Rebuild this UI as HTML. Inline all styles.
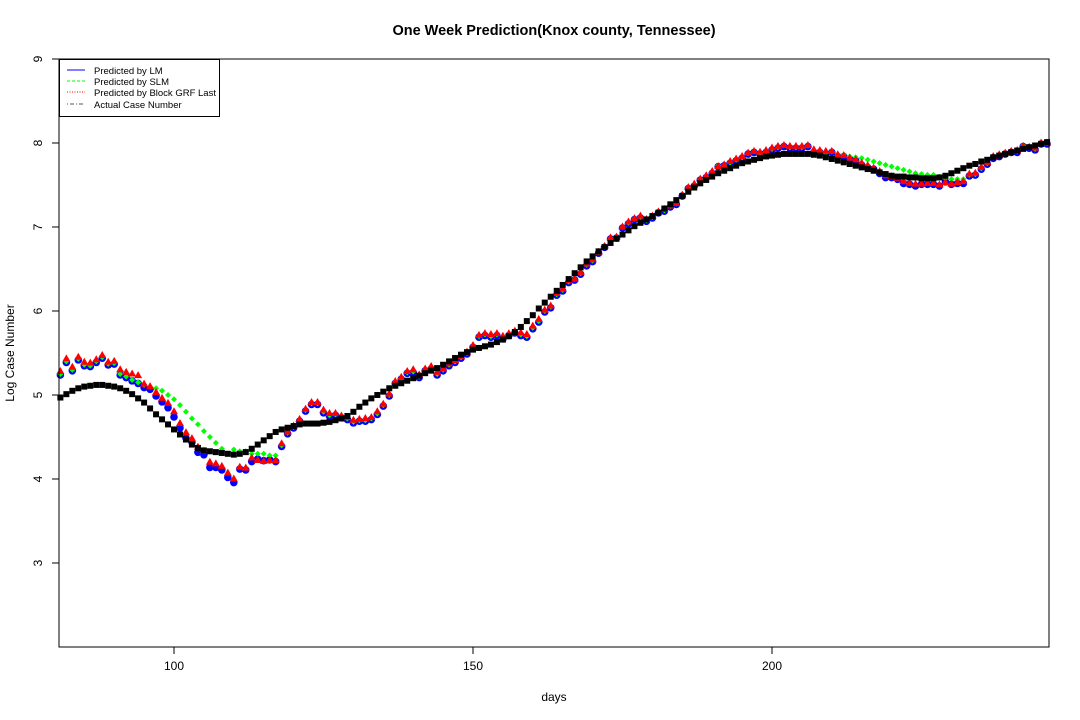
<!DOCTYPE html>
<html><head><meta charset="utf-8"><style>
html,body{margin:0;padding:0;background:#fff;}
svg{display:block;font-family:"Liberation Sans",sans-serif;}
</style></head><body>
<svg id="chart" width="1080" height="720">
<text x="554" y="35" text-anchor="middle" font-size="14.5" font-weight="bold">One Week Prediction(Knox county, Tennessee)</text>
<text x="554" y="701" text-anchor="middle" font-size="12">days</text>
<text x="14" y="353" text-anchor="middle" font-size="12" transform="rotate(-90 14 353)">Log Case Number</text>
<g id="axes"></g>
<g id="marks"></g>
<rect x="59" y="59" width="990" height="588" fill="none" stroke="#000" stroke-width="1"/>
<g>
<rect x="59.5" y="59.5" width="160" height="57" fill="#fff" stroke="#000" stroke-width="1"/>
<line x1="67" y1="70" x2="85" y2="70" stroke="#00f"/>
<text x="94" y="74" font-size="9.5">Predicted by LM</text>
<line x1="67" y1="81" x2="85" y2="81" stroke="#0f0" stroke-dasharray="3,2"/>
<text x="94" y="85" font-size="9.5">Predicted by SLM</text>
<line x1="67" y1="92" x2="85" y2="92" stroke="#f00" stroke-dasharray="1,1.5"/>
<text x="94" y="96" font-size="9.5">Predicted by Block GRF Last</text>
<line x1="67" y1="104" x2="85" y2="104" stroke="#555" stroke-dasharray="1,2,4,2"/>
<text x="94" y="108" font-size="9.5">Actual Case Number</text>
</g>
</svg>
<script>
const startDay = 81;
const actual = [4.97,5.01,5.05,5.08,5.10,5.11,5.12,5.12,5.11,5.10,5.08,5.05,5.01,4.96,4.91,4.84,4.77,4.71,4.65,4.59,4.53,4.47,4.41,4.37,4.34,4.33,4.32,4.31,4.30,4.29,4.30,4.32,4.36,4.41,4.46,4.51,4.56,4.59,4.61,4.63,4.65,4.66,4.66,4.66,4.67,4.68,4.70,4.72,4.75,4.80,4.86,4.91,4.96,5.00,5.04,5.08,5.11,5.14,5.17,5.20,5.23,5.26,5.29,5.32,5.36,5.40,5.44,5.48,5.51,5.54,5.56,5.58,5.60,5.63,5.66,5.70,5.75,5.81,5.88,5.95,6.03,6.10,6.17,6.24,6.31,6.38,6.45,6.52,6.59,6.65,6.71,6.76,6.81,6.86,6.91,6.96,7.01,7.05,7.09,7.13,7.17,7.22,7.27,7.32,7.37,7.42,7.47,7.52,7.56,7.60,7.64,7.67,7.70,7.73,7.76,7.78,7.80,7.82,7.84,7.85,7.86,7.87,7.87,7.87,7.87,7.87,7.86,7.85,7.83,7.81,7.79,7.77,7.75,7.73,7.71,7.69,7.67,7.65,7.63,7.61,7.60,7.60,7.59,7.59,7.58,7.58,7.58,7.59,7.61,7.64,7.67,7.70,7.73,7.75,7.78,7.80,7.83,7.85,7.87,7.89,7.91,7.93,7.95,7.97,7.99,8.01];
const lm = [5.25,5.40,5.30,5.43,5.36,5.35,5.40,5.45,5.37,5.38,5.25,5.22,5.18,5.15,5.10,5.08,5.00,4.93,4.86,4.75,4.62,4.50,4.45,4.33,4.30,4.15,4.15,4.12,4.03,3.97,4.13,4.12,4.22,4.25,4.23,4.24,4.22,4.40,4.55,4.62,4.70,4.82,4.90,4.90,4.80,4.76,4.77,4.74,4.72,4.68,4.70,4.70,4.72,4.78,4.88,5.00,5.15,5.20,5.27,5.28,5.22,5.30,5.32,5.25,5.30,5.36,5.40,5.45,5.50,5.58,5.70,5.72,5.70,5.72,5.68,5.72,5.75,5.72,5.70,5.80,5.88,6.00,6.05,6.20,6.25,6.35,6.38,6.45,6.55,6.60,6.70,6.77,6.87,6.88,7.00,7.05,7.10,7.12,7.08,7.12,7.18,7.20,7.25,7.28,7.38,7.47,7.50,7.57,7.60,7.65,7.73,7.74,7.77,7.80,7.83,7.88,7.90,7.88,7.90,7.93,7.95,7.97,7.95,7.95,7.95,7.97,7.90,7.90,7.88,7.90,7.85,7.85,7.82,7.80,7.75,7.72,7.70,7.65,7.60,7.60,7.58,7.53,7.52,7.50,7.52,7.52,7.52,7.50,7.55,7.52,7.53,7.53,7.62,7.63,7.70,7.76,7.83,7.85,7.88,7.90,7.90,7.97,7.95,7.93,8.00,8.00];
const slm = [5.25,5.40,5.30,5.43,5.36,5.35,5.40,5.45,5.37,5.38,5.25,5.22,5.18,5.15,5.12,5.10,5.08,5.05,5.00,4.95,4.88,4.80,4.72,4.65,4.57,4.50,4.43,4.36,4.30,4.35,4.33,4.33,4.30,4.30,4.30,4.28,4.28,4.40,4.55,4.62,4.70,4.82,4.90,4.90,4.80,4.76,4.77,4.74,4.72,4.68,4.70,4.70,4.72,4.78,4.88,5.00,5.15,5.20,5.27,5.28,5.22,5.30,5.32,5.25,5.30,5.36,5.40,5.45,5.50,5.58,5.70,5.72,5.70,5.72,5.68,5.72,5.75,5.72,5.70,5.80,5.88,6.00,6.05,6.20,6.25,6.35,6.38,6.45,6.55,6.60,6.70,6.77,6.87,6.88,7.00,7.05,7.10,7.12,7.08,7.12,7.18,7.20,7.25,7.28,7.38,7.47,7.50,7.57,7.60,7.65,7.73,7.74,7.77,7.80,7.83,7.88,7.90,7.88,7.90,7.93,7.95,7.97,7.95,7.95,7.95,7.97,7.90,7.90,7.88,7.90,7.86,7.86,7.84,7.83,7.82,7.80,7.78,7.76,7.74,7.72,7.70,7.68,7.66,7.64,7.63,7.62,7.62,7.60,7.58,7.57,7.57,7.57,7.62,7.63,7.70,7.76,7.83,7.85,7.88,7.90,7.90,7.97,7.95,7.93,8.00,8.00];
const grf = [5.28,5.43,5.33,5.45,5.39,5.38,5.42,5.47,5.39,5.40,5.30,5.27,5.25,5.23,5.13,5.10,5.03,4.96,4.90,4.80,4.66,4.55,4.48,4.38,4.33,4.20,4.18,4.15,4.07,4.00,4.14,4.13,4.25,4.22,4.21,4.22,4.22,4.42,4.56,4.63,4.71,4.83,4.91,4.91,4.82,4.78,4.78,4.75,4.73,4.70,4.71,4.72,4.73,4.80,4.89,5.01,5.16,5.21,5.28,5.30,5.24,5.31,5.34,5.27,5.31,5.37,5.41,5.46,5.51,5.59,5.71,5.73,5.72,5.73,5.70,5.73,5.76,5.74,5.72,5.82,5.90,6.01,6.06,6.21,6.26,6.36,6.38,6.46,6.56,6.61,6.70,6.77,6.87,6.88,7.00,7.06,7.10,7.13,7.09,7.13,7.18,7.21,7.25,7.28,7.38,7.47,7.51,7.57,7.61,7.66,7.72,7.74,7.78,7.81,7.84,7.88,7.90,7.89,7.91,7.94,7.96,7.97,7.96,7.96,7.96,7.97,7.92,7.91,7.90,7.90,7.86,7.85,7.82,7.80,7.76,7.73,7.70,7.66,7.61,7.60,7.58,7.54,7.52,7.51,7.51,7.52,7.52,7.50,7.53,7.51,7.53,7.54,7.63,7.64,7.71,7.77,7.84,7.86,7.88,7.90,7.91,7.96,7.95,7.94,8.00,8.00];
const xTicks = [100,150,200];
const yTicks = [3,4,5,6,7,8,9];

const NS='http://www.w3.org/2000/svg';
const xs = d => 174 + (d-100)*5.98;
const ys = v => 59 + (9-v)*84;
const axes=document.getElementById('axes'), marks=document.getElementById('marks');
function mk(tag,attrs,parent){const e=document.createElementNS(NS,tag);for(const k in attrs)e.setAttribute(k,attrs[k]);parent.appendChild(e);return e;}
xTicks.forEach(t=>{
  const l=mk('line',{x1:xs(t),x2:xs(t),y1:647,y2:654,stroke:'#000'},axes);
  
  
  const tx=mk('text',{x:xs(t),y:670,'text-anchor':'middle','font-size':12},axes);
  tx.textContent=t;
  
  
});
yTicks.forEach(t=>{
  const l=mk('line',{x1:52,x2:59,y1:ys(t),y2:ys(t),stroke:'#000'},axes);
  
  
  const tx=mk('text',{x:42,y:ys(t),'text-anchor':'middle','font-size':12,transform:`rotate(-90 42 ${ys(t)})`},axes);
  tx.textContent=t;
  
  
});
lm.forEach((v,i)=>{
  const c=mk('circle',{cx:xs(startDay+i),cy:ys(v)+1,r:3.8,fill:'#00f'},marks);
  
  
});
slm.forEach((v,i)=>{
  const x=xs(startDay+i),y=ys(v);
  const c=mk('polygon',{points:`${x},${y-3} ${x+3},${y} ${x},${y+3} ${x-3},${y}`,fill:'#0f0'},marks);
  
  
});
grf.forEach((v,i)=>{
  const x=xs(startDay+i),y=ys(v);
  const c=mk('polygon',{points:`${x},${y-4.5} ${x+4},${y+2.5} ${x-4},${y+2.5}`,fill:'#f00'},marks);
  
  
});
actual.forEach((v,i)=>{
  const x=xs(startDay+i),y=ys(v);
  const c=mk('rect',{x:x-3,y:y-3,width:6,height:6,fill:'#000'},marks);
  
  
});
</script>
</body></html>
